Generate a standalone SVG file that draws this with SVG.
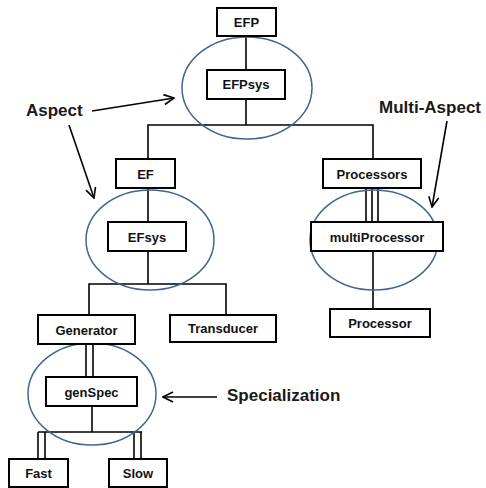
<svg xmlns="http://www.w3.org/2000/svg" width="486" height="488" viewBox="0 0 486 488">
<style>
.box{fill:#fff;stroke:#000;stroke-width:2}
.lbl{font-family:"Liberation Sans",Arial,sans-serif;font-weight:bold;font-size:13px;fill:#111;text-anchor:middle}
.ann{font-family:"Liberation Sans",Arial,sans-serif;font-weight:bold;font-size:17px;fill:#1a1a1a}
.ell{fill:none;stroke:#42648f;stroke-width:1.5}
.ln{stroke:#000;stroke-width:1.6;fill:none}
.arr{stroke:#000;stroke-width:1.6;fill:none;marker-end:url(#open)}
</style>
<defs>
<marker id="open" viewBox="0 0 12 12" refX="11" refY="6" markerWidth="12" markerHeight="12" markerUnits="userSpaceOnUse" orient="auto">
<path d="M1,1 L11,6 L1,11" fill="none" stroke="#000" stroke-width="1.6"/>
</marker>
</defs>
<rect width="486" height="488" fill="#fff"/>
<g id="connectors">
<line class="ln" x1="246" y1="36" x2="246" y2="70"/>
<polyline class="ln" points="148,159 148,125 373,125 373,159"/>
<line class="ln" x1="246" y1="99" x2="246" y2="125"/>
<line class="ln" x1="148" y1="188" x2="148" y2="222"/>
<polyline class="ln" points="89,315 89,284 226,284 226,315"/>
<line class="ln" x1="148" y1="251" x2="148" y2="284"/>
<line class="ln" x1="366" y1="188" x2="366" y2="222"/>
<line class="ln" x1="372" y1="188" x2="372" y2="222"/>
<line class="ln" x1="378" y1="188" x2="378" y2="222"/>
<line class="ln" x1="373" y1="251" x2="373" y2="309"/>
<line class="ln" x1="86" y1="344" x2="86" y2="377"/>
<line class="ln" x1="93" y1="344" x2="93" y2="377"/>
<line class="ln" x1="92" y1="406" x2="92" y2="432"/>
<line class="ln" x1="38" y1="432" x2="142" y2="432"/>
<line class="ln" x1="38" y1="432" x2="38" y2="459"/>
<line class="ln" x1="45" y1="432" x2="45" y2="459"/>
<line class="ln" x1="134" y1="432" x2="134" y2="459"/>
<line class="ln" x1="141" y1="432" x2="141" y2="459"/>
<line class="arr" x1="92" y1="111" x2="174" y2="98"/>
<line class="arr" x1="69" y1="125" x2="94" y2="198"/>
<line class="arr" x1="447" y1="121" x2="432" y2="207"/>
<line class="arr" x1="217" y1="397" x2="163" y2="397"/>
</g>
<g id="aspect-ellipses">
<ellipse class="ell" cx="247" cy="88" rx="65" ry="51"/>
<ellipse class="ell" cx="150" cy="240" rx="64" ry="50"/>
<ellipse class="ell" cx="374" cy="240" rx="64" ry="50"/>
<ellipse class="ell" cx="92" cy="394" rx="64" ry="51"/>
</g>
<g id="EFP"><rect class="box" x="217" y="8" width="59" height="28"/><text class="lbl" x="246.5" y="26.5">EFP</text></g>
<g id="EFPsys"><rect class="box" x="207" y="70" width="78" height="29"/><text class="lbl" x="246" y="89">EFPsys</text></g>
<g id="EF"><rect class="box" x="116" y="159" width="59" height="29"/><text class="lbl" x="145.5" y="178.5">EF</text></g>
<g id="Processors"><rect class="box" x="323" y="159" width="98" height="29"/><text class="lbl" x="372" y="178.5">Processors</text></g>
<g id="EFsys"><rect class="box" x="108" y="222" width="78" height="29"/><text class="lbl" x="147" y="241.5">EFsys</text></g>
<g id="multiProcessor"><rect class="box" x="311" y="222" width="132" height="29"/><text class="lbl" x="377" y="241.5">multiProcessor</text></g>
<g id="Generator"><rect class="box" x="38" y="315" width="97" height="29"/><text class="lbl" x="86.5" y="334.5">Generator</text></g>
<g id="Transducer"><rect class="box" x="170" y="315" width="106" height="27"/><text class="lbl" x="223" y="333">Transducer</text></g>
<g id="Processor"><rect class="box" x="330" y="309" width="100" height="28"/><text class="lbl" x="380" y="327.5">Processor</text></g>
<g id="genSpec"><rect class="box" x="46" y="377" width="91" height="29"/><text class="lbl" x="91.5" y="396.5">genSpec</text></g>
<g id="Fast"><rect class="box" x="9" y="459" width="59" height="28"/><text class="lbl" x="38.5" y="478">Fast</text></g>
<g id="Slow"><rect class="box" x="109" y="459" width="58" height="28"/><text class="lbl" x="138" y="478">Slow</text></g>
<g id="annotations">
<text class="ann" x="26" y="116">Aspect</text>
<text class="ann" x="379" y="113">Multi-Aspect</text>
<text class="ann" x="227" y="401">Specialization</text>
</g>
</svg>
